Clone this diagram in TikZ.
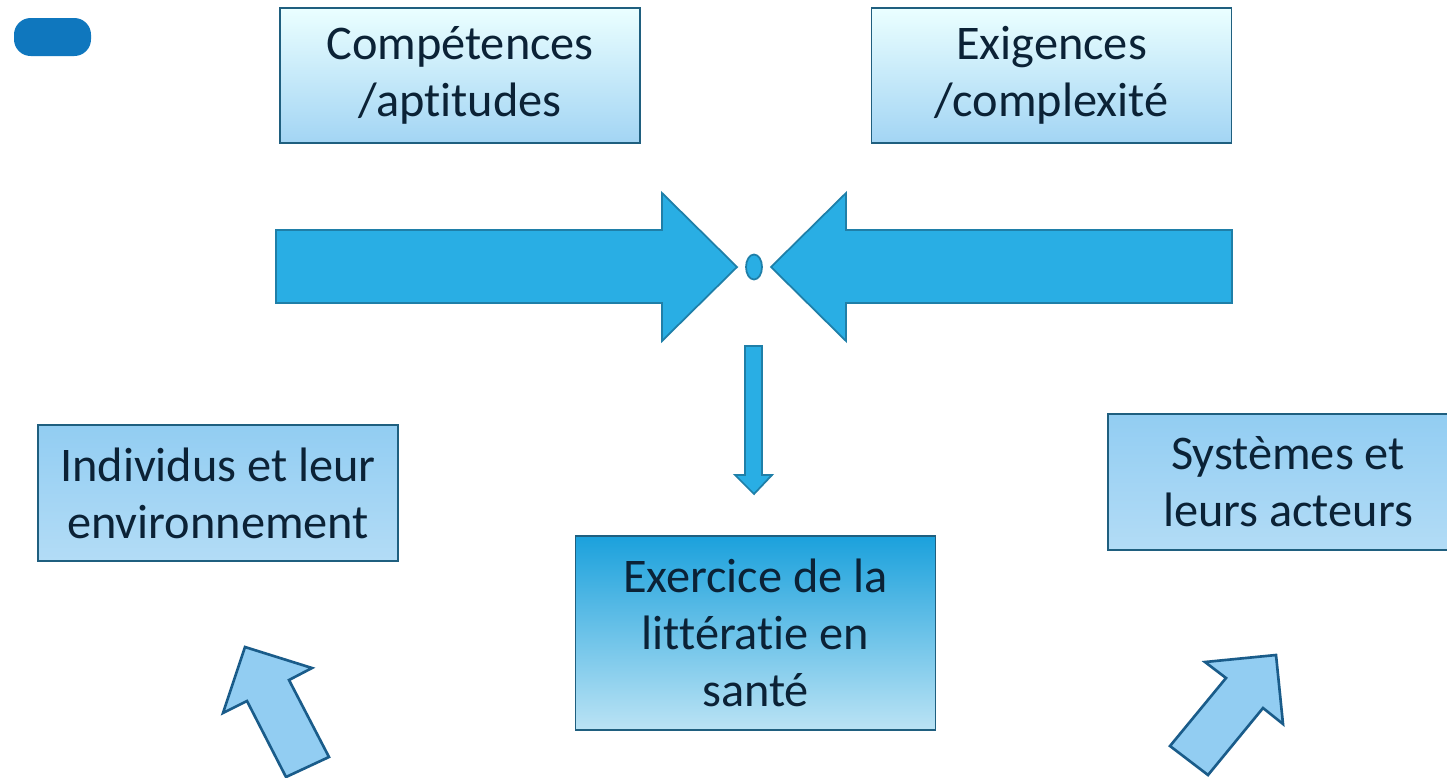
\documentclass[tikz,border=0pt]{standalone}
\usepackage{fontspec}
\setmainfont{Carlito}[Ligatures=NoCommon]
\usetikzlibrary{positioning,shapes.geometric}

\definecolor{textnavy}{HTML}{0B2236}
\definecolor{boxline}{HTML}{1F5F7F}
\definecolor{bigfill}{HTML}{29AEE4}
\definecolor{bigline}{HTML}{1F7FA8}
\definecolor{smallfill}{HTML}{92CDF2}
\definecolor{smallline}{HTML}{1A5C8A}
\definecolor{pillblue}{HTML}{0F77BE}
\definecolor{maintop}{HTML}{1BA1DC}

\tikzset{
  topbox/.style={top color=white!92!cyan, bottom color=smallfill!85!white},
  sidebox/.style={top color=smallfill, bottom color=smallfill!70!white},
  mainbox/.style={top color=maintop, bottom color=maintop!30!white},
  bigarrow/.style={draw=bigline, fill=bigfill, line width=1pt},
  smallarrow/.style={draw=smallline, fill=smallfill, line width=1.5pt},
}

\begin{document}
\begin{tikzpicture}[x=0.2mm,y=-0.2mm]
  \clip (0,0) rectangle (1447,777);
  \fill[white] (0,0) rectangle (1447,777);

  % pill in the corner
  \fill[pillblue, rounded corners=9.5pt] (14,18) rectangle (91,56);

  \begin{scope}[every node/.style={rectangle, draw=boxline, line width=0.8pt,
      text=textnavy, align=center, font=\fontsize{27.5}{32.5}\selectfont,
      minimum width=72mm, inner sep=0pt}]
    \node[topbox, minimum height=27mm] (comp) at (460,75.5) {Compétences\\/aptitudes};
    \node[topbox, minimum height=27mm] (exig) at (1051.5,75.5) {Exigences\\/complexité};
    \node[sidebox, minimum height=27.2mm] (indiv) at (218,493) {Individus et leur\\environnement};
    \node[sidebox, minimum height=27.2mm] (syst) at (1288,482) {Systèmes et\\leurs acteurs};
    \node[mainbox, minimum height=38.8mm] (exer) at (755.5,633) {Exercice de la\\littératie en\\santé};
  \end{scope}

  % big arrows towards the middle
  \draw[bigarrow] (276,230) -- (662,230) -- (662,193) -- (737,267)
    -- (662,341) -- (662,303) -- (276,303) -- cycle;
  \draw[bigarrow] (1232,230) -- (846,230) -- (846,193) -- (771,267)
    -- (846,341) -- (846,303) -- (1232,303) -- cycle;
  \node[draw=bigline, fill=bigfill, line width=1pt, ellipse, minimum width=3.2mm,
    minimum height=5mm, inner sep=0pt] (meet) at (754,267) {};

  % arrow down
  \draw[bigarrow] (745,346) -- (762,346) -- (762,475) -- (772,475) -- (754,494)
    -- (735,475) -- (745,475) -- cycle;

  % tilted arrows
  \draw[smallarrow] (245,647) -- (312,668) -- (289,680) -- (329,757)
    -- (286,777) -- (247,701) -- (223,713) -- cycle;
  \draw[smallarrow] (1276,655) -- (1283,724) -- (1263,708) -- (1208,775)
    -- (1170,746) -- (1226,678) -- (1205,662) -- cycle;
\end{tikzpicture}
\end{document}
